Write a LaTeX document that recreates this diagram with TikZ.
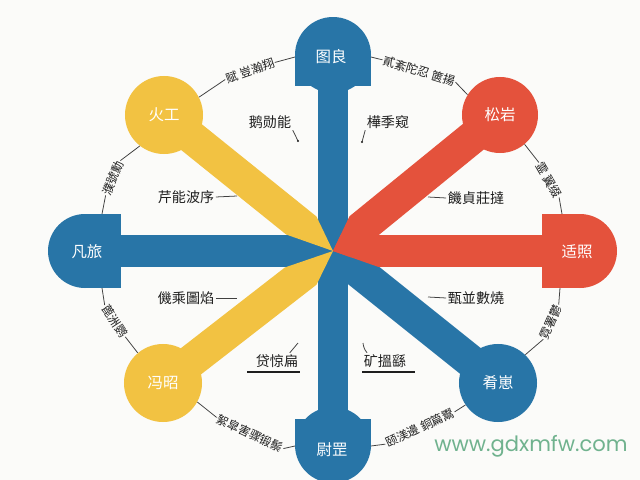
\documentclass[tikz,border=0pt]{standalone}
\usepackage{fontspec}
\newfontfamily\cjk{Noto Sans CJK SC}
\newfontfamily\wmfont{Poppins}
\definecolor{blu}{RGB}{40,117,167}
\definecolor{ylw}{RGB}{242,194,66}
\definecolor{redc}{RGB}{228,82,60}
\definecolor{bgc}{RGB}{251,251,249}
\definecolor{ink}{RGB}{30,30,30}
\definecolor{wmc}{RGB}{112,178,142}
\begin{document}
\begin{tikzpicture}[x=0.025cm,y=-0.025cm,
  capl/.style={font=\cjk\fontsize{11}{11}\selectfont, text=white, inner sep=0pt},
  disc/.style={circle, inner sep=0pt, capl},
  lab/.style={font=\cjk\fontsize{10}{10}\selectfont, text=ink, inner sep=1pt},
  ring/.style={font=\cjk\fontsize{8.5}{8.5}\selectfont, text=ink, inner sep=0.5pt},
  lead/.style={draw=ink!85, line width=0.55pt},
  uline/.style={draw=ink, line width=0.8pt}]
\fill[bgc] (0,0) rectangle (640,480);
\useasboundingbox (0,0) rectangle (640,480);
% centre and arm ends
\coordinate (O) at (333,251);
\coordinate (eR) at (580,251);
\coordinate (eL) at (85,251);
\coordinate (eU) at (333,55);
\coordinate (eD) at (333,445);
\coordinate (eUL) at (164,115);
\coordinate (eUR) at (500,115);
\coordinate (eLL) at (163,383);
\coordinate (eLR) at (498,383);
% blue bars
\draw[blu, line width=0.725cm] (eU) -- (eD);
\draw[blu, line width=0.775cm] (O) -- (eL);
\draw[blu, line width=0.825cm] (O) -- (eLR);
% red bars (one wedge)
\begin{scope}
  \clip (O) -- +(295.4:420) -- +(320.8:420) -- +(340.4:420) -- +(0:420) -- +(19.35:420) -- cycle;
  \draw[redc, line width=0.825cm] (O) -- (eUR);
  \draw[redc, line width=0.775cm] (O) -- (eR);
\end{scope}
% yellow bars
\begin{scope}
  \clip (O) -- +(199.4:420) -- +(218.8:420) -- +(244.4:420) -- cycle;
  \draw[ylw, line width=0.825cm] (O) -- (eUL);
\end{scope}
\begin{scope}
  \clip (O) -- +(116.1:420) -- +(142.2:420) -- +(161.1:420) -- cycle;
  \draw[ylw, line width=0.825cm] (O) -- (eLL);
\end{scope}
% caps
\fill[blu] (333,55) circle[radius=38];
\fill[blu] (295,55) rectangle (371,86);
\fill[blu] (333,445) circle[radius=38];
\fill[blu] (295,419) rectangle (371,445);
\fill[blu] (85,251) circle[radius=37];
\fill[blu] (85,214) rectangle (121,288);
\fill[redc] (580,251) circle[radius=37];
\fill[redc] (542,214) rectangle (580,288);
% circles
\node[disc, fill=ylw, minimum size=1.95cm] (cul) at (164,115) {火工};
\node[disc, fill=redc, minimum size=1.9cm] (cur) at (500,115) {松岩};
\node[disc, fill=ylw, minimum size=1.95cm] (cll) at (163,383) {冯昭};
\node[disc, fill=blu, minimum size=1.95cm] (clr) at (498,383) {肴崽};
% cap labels
\node[capl] (tcap) at (331,57) {图良};
\node[capl] (lcap) at (87,252) {凡旅};
\node[capl] (rcap) at (577,252) {适照};
\node[capl] (bcap) at (332,450) {尉罡};
% cap attachment points
\coordinate (tcL) at (295,57);
\coordinate (tcR) at (371,57);
\coordinate (bcL) at (295,446);
\coordinate (bcR) at (371,446);
\coordinate (lcT) at (102,214);
\coordinate (lcB) at (102,288);
\coordinate (rcT) at (562,214);
\coordinate (rcB) at (560,288);
% outer ring labels
\node[ring, rotate=67] (ra) at (113,178) {濮號勳};
\draw[lead] (lcT) -- (ra.west);
\draw[lead] (ra.east) -- (cul.232);
\node[ring, rotate=19] (rb) at (250,71) {赋 豈瀚翔};
\draw[lead] (cul.27) -- (rb.west);
\draw[lead] (rb.east) -- (tcL);
\node[ring, rotate=-17] (rc) at (419,71) {貳紊陀忍 篋揚};
\draw[lead] (tcR) -- (rc.west);
\draw[lead] (rc.east) -- (cur.148);
\node[ring, rotate=-60] (rdd) at (549,180) {霊 翼缀};
\draw[lead] (cur.310) -- (rdd.west);
\draw[lead] (rdd.east) -- (rcT);
\node[ring, rotate=66] (re) at (551,322) {霓署鬱};
\draw[lead] (rcB) -- (re.east);
\draw[lead] (re.west) -- (clr.46);
\node[ring, rotate=-57] (rf) at (115,321) {蓖洲鹦};
\draw[lead] (lcB) -- (rf.west);
\draw[lead] (rf.east) -- (cll.130);
\node[ring, rotate=-25] (rg) at (250,433) {絮皐害骤锻鬃};
\draw[lead] (cll.331) -- (rg.west);
\draw[lead] (rg.east) -- (bcL);
\node[ring, rotate=25] (rh) at (420,428) {颐渼邊 銅篇鬻};
\draw[lead] (bcR) -- (rh.west);
\draw[lead] (rh.east) -- (clr.214);
% inner labels
\node[lab] (n1) at (270,122) {鹅勋能};
\coordinate (n1t) at (298,141);
\draw[lead] (n1.south east) -- (n1t);
\fill[ink] (n1t) circle[radius=1.2];
\node[lab] (n2) at (388,122) {樺季窥};
\coordinate (n2t) at (362,142);
\draw[lead] (n2.south west) -- (n2t);
\fill[ink] (n2t) circle[radius=1.2];
\node[lab] (n3) at (186,197) {芹能波序};
\coordinate (n3t) at (237,196);
\draw[lead] (n3.east) -- (n3t);
\node[lab] (n4) at (186,298) {僟乘圖焰};
\coordinate (n4t) at (237,298);
\draw[lead] (n4.east) -- (n4t);
\node[lab] (n5) at (476,198) {饑貞莊撻};
\coordinate (n5t) at (428,197);
\draw[lead] (n5t) -- (n5.west);
\node[lab] (n6) at (476,298) {甄並數燒};
\coordinate (n6t) at (428,297);
\draw[lead] (n6t) -- (n6.west);
\node[lab] (n7) at (277,361) {贷惊扁};
\coordinate (n7t) at (298,343);
\coordinate (n7u) at (247,372);
\draw[uline] (n7u) -- (n7.south east |- n7u);
\draw[lead] ([xshift=-0.25cm]n7.north east) -- (n7t);
\node[lab] (n8) at (385,361) {矿搵繇};
\coordinate (n8t) at (363,343);
\coordinate (n8u) at (415,372);
\draw[uline] (n8.south west |- n8u) -- (n8u);
\draw[lead] ([xshift=0.12cm]n8.north west) to[bend left=15] (n8t);
% watermark
\node[font=\wmfont\fontsize{15}{15}\selectfont, text=wmc, inner sep=0pt] (wm) at (531,446) {www.gdxmfw.com};
\end{tikzpicture}
\end{document}
